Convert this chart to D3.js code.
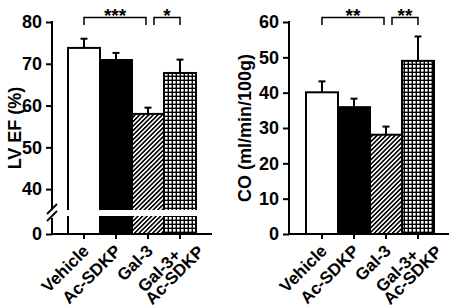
<!DOCTYPE html>
<html>
<head>
<meta charset="utf-8">
<script src="https://cdn.jsdelivr.net/npm/d3@7"></script>
<style>
  body { margin: 0; background: #fff; }
  svg text { font-family: Arial, "Liberation Sans", sans-serif; font-weight: bold; }
</style>
</head>
<body>
<svg id="chart" width="454" height="308"></svg>
<script>
// groups and values
var categories = ["Vehicle", "Ac-SDKP", "Gal-3", "Gal-3+|Ac-SDKP"];
var efMean = [73.8, 70.9, 58.0, 67.8];
var efErr = [2.2, 1.7, 1.5, 3.2];
var coMean = [40.1, 35.9, 28.1, 49.0];
var coErr = [3.1, 2.4, 2.3, 6.9];
var efTicks = [40, 50, 60, 70, 80];
var coTicks = [0, 10, 20, 30, 40, 50, 60];
var efSig = [["Vehicle", "Gal-3", "***"], ["Gal-3", "Gal-3+|Ac-SDKP", "*"]];
var coSig = [["Vehicle", "Gal-3", "**"], ["Gal-3", "Gal-3+|Ac-SDKP", "**"]];

var svg = d3.select("#chart");
var fills = ["#fff", "#000", "url(#hatch)", "url(#grid)"];

// fill patterns
var defs = svg.append("defs");
var hatch = defs.append("pattern")
  .attr("id", "hatch")
  .attr("patternUnits", "userSpaceOnUse")
  .attr("width", 3.2).attr("height", 3.2)
  .attr("patternTransform", "rotate(45)");
hatch.append("rect").attr("width", 3.2).attr("height", 3.2).attr("fill", "#fff");
hatch.append("rect").attr("width", 1.6).attr("height", 3.2).attr("fill", "#000");

var grid = defs.append("pattern")
  .attr("id", "grid")
  .attr("patternUnits", "userSpaceOnUse")
  .attr("width", 4).attr("height", 4);
grid.append("rect").attr("width", 4).attr("height", 4).attr("fill", "#000");
grid.append("rect").attr("x", 1).attr("y", 1).attr("width", 2.6).attr("height", 2.6).attr("fill", "#fff");

function panel(opt) {
  var g = svg.append("g");
  var base = 234;

  var x = d3.scaleBand().domain(categories).range(opt.barRange).padding(0);
  var y = d3.scaleLinear().domain(opt.domain).range([opt.yBottom, 22]);

  // bars
  g.selectAll("rect.bar")
    .data(opt.mean)
    .enter()
    .append("rect")
    .attr("class", "bar")
    .attr("x", function (d, i) { return x(categories[i]); })
    .attr("y", function (d) { return y(d); })
    .attr("width", x.bandwidth())
    .attr("height", function (d) { return base - y(d); })
    .attr("fill", function (d, i) { return fills[i]; })
    .attr("stroke", "#000")
    .attr("stroke-width", 2);

  // error bars (upper only)
  var err = g.selectAll("g.err")
    .data(opt.mean)
    .enter()
    .append("g")
    .attr("stroke", "#000")
    .attr("stroke-width", 2);
  err.append("line")
    .attr("x1", function (d, i) { return x(categories[i]) + x.bandwidth() / 2; })
    .attr("x2", function (d, i) { return x(categories[i]) + x.bandwidth() / 2; })
    .attr("y1", function (d) { return y(d); })
    .attr("y2", function (d, i) { return y(d + opt.err[i]); });
  err.append("line")
    .attr("x1", function (d, i) { return x(categories[i]) + x.bandwidth() / 2 - 3.5; })
    .attr("x2", function (d, i) { return x(categories[i]) + x.bandwidth() / 2 + 3.5; })
    .attr("y1", function (d, i) { return y(d + opt.err[i]); })
    .attr("y2", function (d, i) { return y(d + opt.err[i]); });

  // y axis
  var yAxis = g.append("g")
    .attr("transform", "translate(" + opt.axisX + ",0)")
    .call(d3.axisLeft(y).tickValues(opt.ticks).tickSize(6).tickSizeOuter(0).tickPadding(4));
  yAxis.select(".domain").remove();
  yAxis.selectAll(".tick line").attr("stroke-width", 2);
  yAxis.selectAll("text").attr("font-size", 18).attr("font-family", null);
  g.append("line")
    .attr("x1", opt.axisX).attr("x2", opt.axisX)
    .attr("y1", 21).attr("y2", opt.breakAt ? opt.breakAt[0] : base)
    .attr("stroke", "#000").attr("stroke-width", 2);

  // axis break
  if (opt.breakAt) {
    var yLow = d3.scaleLinear().domain([0, 5]).range([base, opt.breakAt[1] + 4]);
    g.append("rect")
      .attr("x", x.range()[0] - 2).attr("y", opt.breakAt[0])
      .attr("width", x.range()[1] - x.range()[0] + 4)
      .attr("height", opt.breakAt[1] - opt.breakAt[0])
      .attr("fill", "#fff");
    g.append("line")
      .attr("x1", opt.axisX).attr("x2", opt.axisX)
      .attr("y1", opt.breakAt[1] + 2).attr("y2", base)
      .attr("stroke", "#000").attr("stroke-width", 2);
    var low = g.append("g")
      .attr("transform", "translate(" + opt.axisX + ",0)")
      .call(d3.axisLeft(yLow).tickValues([0]).tickFormat(d3.format("d"))
        .tickSize(6).tickSizeOuter(0).tickPadding(4));
    low.select(".domain").remove();
    low.selectAll(".tick line").attr("stroke-width", 2);
    low.selectAll("text").attr("font-size", 18).attr("font-family", null);
    [0, 7].forEach(function (o) {
      g.append("line")
        .attr("x1", opt.axisX - 5).attr("y1", opt.breakAt[0] + 4 + o)
        .attr("x2", opt.axisX + 5).attr("y2", opt.breakAt[0] - 6 + o)
        .attr("stroke", "#000").attr("stroke-width", 1.8);
    });
  }

  // x axis
  var xAxis = g.append("g")
    .attr("transform", "translate(0," + base + ")")
    .call(d3.axisBottom(x).tickSize(5).tickSizeOuter(0).tickFormat(""));
  xAxis.select(".domain").remove();
  xAxis.selectAll(".tick line").attr("stroke-width", 2);
  g.append("line")
    .attr("x1", opt.axisX - 1).attr("x2", opt.xEnd)
    .attr("y1", base).attr("y2", base)
    .attr("stroke", "#000").attr("stroke-width", 2);

  // category labels, rotated
  categories.forEach(function (c) {
    var cx = x(c) + x.bandwidth() / 2;
    var parts = c.split("|");
    var t = g.append("text")
      .attr("transform", "translate(" + (cx + 6) + "," + (base + 18) + ") rotate(-45)")
      .attr("text-anchor", "end")
      .attr("font-size", 17);
    if (parts.length === 1) {
      t.text(c);
    } else {
      t.append("tspan").attr("x", -6).attr("y", 0).text(parts[0]);
      t.append("tspan").attr("x", 13).attr("y", 14).text(parts[1]);
    }
  });

  // significance brackets
  opt.sig.forEach(function (s, k) {
    var x1 = x(s[0]) + x.bandwidth() / 2 + (k === 0 ? 0 : 6);
    var x2 = x(s[1]) + x.bandwidth() / 2 - (k === 0 ? 2 : 0);
    g.append("path")
      .attr("d", "M" + x1 + ",25V17.5H" + x2 + "V25")
      .attr("fill", "none").attr("stroke", "#000").attr("stroke-width", 1.5);
    g.append("text")
      .attr("x", (x1 + x2) / 2).attr("y", 22)
      .attr("text-anchor", "middle")
      .attr("font-size", 19)
      .text(s[2]);
  });

  // y axis title
  g.append("text")
    .attr("transform", "translate(" + opt.titleX + ",128) rotate(-90)")
    .attr("text-anchor", "middle")
    .attr("font-size", 18)
    .text(opt.title);
}

panel({
  mean: efMean, err: efErr, ticks: efTicks, sig: efSig,
  domain: [35, 80], yBottom: 210, breakAt: [210, 216],
  barRange: [68, 196], axisX: 52, xEnd: 212,
  title: "LV EF (%)", titleX: 21
});

panel({
  mean: coMean, err: coErr, ticks: coTicks, sig: coSig,
  domain: [0, 60], yBottom: 234, breakAt: null,
  barRange: [306, 434], axisX: 289, xEnd: 449,
  title: "CO (ml/min/100g)", titleX: 251
});
</script>
</body>
</html>
